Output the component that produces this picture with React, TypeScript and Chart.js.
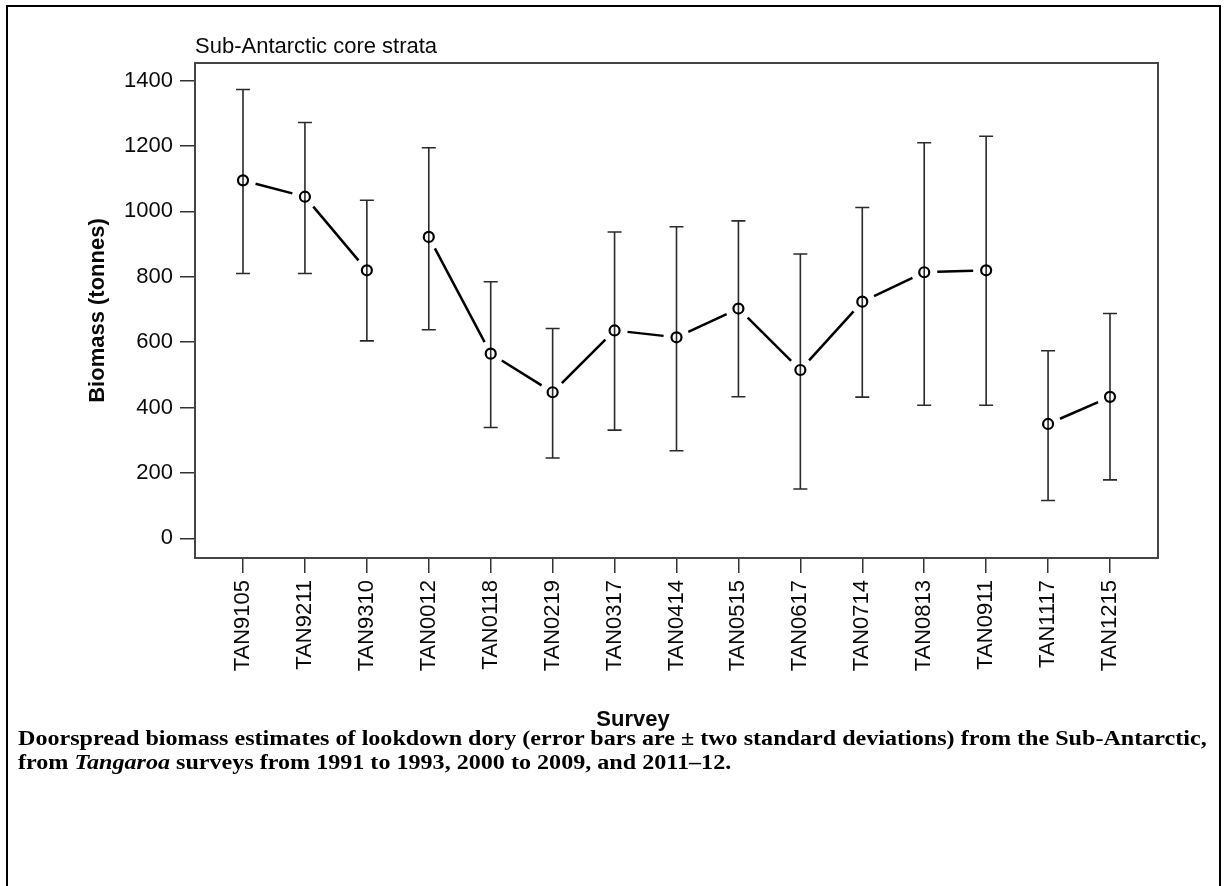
import React, { useEffect, useRef } from "react";
import { Chart, registerables } from "chart.js";

Chart.register(...registerables);

// ---- data ----
const SURVEYS = [
  "TAN9105", "TAN9211", "TAN9310", "TAN0012", "TAN0118", "TAN0219", "TAN0317", "TAN0414",
  "TAN0515", "TAN0617", "TAN0714", "TAN0813", "TAN0911", "TAN1117", "TAN1215",
];
const BIOMASS = [1095, 1045, 820, 922, 565, 447, 636, 615, 703, 515, 724, 814, 820, 350, 433];
const LOWER = [810, 810, 604, 638, 339, 246, 331, 268, 433, 151, 432, 407, 407, 116, 179];
const UPPER = [1373, 1272, 1034, 1195, 785, 642, 937, 953, 971, 870, 1012, 1210, 1230, 574, 688];
// surveys in the same group are joined by a line
const GROUP = [1, 1, 1, 2, 2, 2, 2, 2, 2, 2, 2, 2, 2, 3, 3];
const Y_TICKS = [0, 200, 400, 600, 800, 1000, 1200, 1400];

const CHART_TITLE = "Sub-Antarctic core strata";
const X_TITLE = "Survey";
const Y_TITLE = "Biomass (tonnes)";

const SANS = '"Liberation Sans", Arial, Helvetica, sans-serif';
const SERIF = '"Liberation Serif", "Times New Roman", Times, serif';
const TEXT = "#0a0a0a";

const decorPlugin = {
  id: "decor",
  beforeDatasetsDraw(chart: any) {
    const { ctx, scales } = chart;
    const x = scales.x;
    const y = scales.y;
    ctx.save();
    // error bars
    ctx.strokeStyle = "#2a2a2a";
    ctx.lineWidth = 1.6;
    SURVEYS.forEach((_, i) => {
      const px = x.getPixelForValue(i + 1);
      const lo = y.getPixelForValue(LOWER[i]);
      const hi = y.getPixelForValue(UPPER[i]);
      ctx.beginPath();
      ctx.moveTo(px, lo);
      ctx.lineTo(px, hi);
      ctx.moveTo(px - 7, lo);
      ctx.lineTo(px + 7, lo);
      ctx.moveTo(px - 7, hi);
      ctx.lineTo(px + 7, hi);
      ctx.stroke();
    });
    // connecting segments with gaps around points
    ctx.strokeStyle = "#000";
    ctx.lineWidth = 2.5;
    ctx.lineCap = "butt";
    const gap = 13;
    for (let i = 0; i < SURVEYS.length - 1; i++) {
      if (GROUP[i] !== GROUP[i + 1]) continue;
      const x1 = x.getPixelForValue(i + 1);
      const y1 = y.getPixelForValue(BIOMASS[i]);
      const x2 = x.getPixelForValue(i + 2);
      const y2 = y.getPixelForValue(BIOMASS[i + 1]);
      const len = Math.hypot(x2 - x1, y2 - y1);
      if (len <= 2 * gap) continue;
      const dx = (x2 - x1) / len;
      const dy = (y2 - y1) / len;
      ctx.beginPath();
      ctx.moveTo(x1 + dx * gap, y1 + dy * gap);
      ctx.lineTo(x2 - dx * gap, y2 - dy * gap);
      ctx.stroke();
    }
    ctx.restore();
  },
  afterDraw(chart: any) {
    const { ctx, chartArea } = chart;
    ctx.save();
    // plot box
    ctx.strokeStyle = "#444";
    ctx.lineWidth = 2;
    ctx.strokeRect(
      chartArea.left,
      chartArea.top,
      chartArea.right - chartArea.left,
      chartArea.bottom - chartArea.top
    );
    // chart title
    ctx.fillStyle = TEXT;
    ctx.font = `22px ${SANS}`;
    ctx.textAlign = "left";
    ctx.textBaseline = "alphabetic";
    ctx.fillText(CHART_TITLE, chartArea.left, chartArea.top - 10);
    // x axis title
    ctx.font = `bold 22px ${SANS}`;
    ctx.textAlign = "center";
    ctx.fillText(X_TITLE, 633, 726);
    ctx.restore();
  },
};

function App() {
  const ref = useRef<HTMLCanvasElement | null>(null);

  useEffect(() => {
    if (!ref.current) return;
    const chart = new Chart(ref.current, {
      type: "scatter",
      data: {
        datasets: [
          {
            data: BIOMASS.map((v, i) => ({ x: i + 1, y: v })),
            showLine: false,
            pointRadius: 5,
            pointHoverRadius: 5,
            pointBorderWidth: 2.2,
            pointBorderColor: "#000",
            pointBackgroundColor: "rgba(0,0,0,0)",
          },
        ],
      },
      options: {
        responsive: false,
        devicePixelRatio: 1,
        animation: false,
        events: [],
        layout: { padding: { left: 0, top: 63, right: 70, bottom: 198 } },
        plugins: {
          legend: { display: false },
          tooltip: { enabled: false },
          title: { display: false },
        },
        scales: {
          x: {
            type: "linear",
            min: 0.225,
            max: 15.775,
            afterBuildTicks: (s: any) => {
              s.ticks = SURVEYS.map((_, i) => ({ value: i + 1 }));
            },
            afterFit: (s: any) => {
              s.height = 130;
            },
            ticks: {
              autoSkip: false,
              minRotation: 90,
              maxRotation: 90,
              padding: 7,
              color: TEXT,
              font: { family: SANS, size: 22 },
              callback: (v: any) => SURVEYS[Math.round(Number(v)) - 1] ?? "",
            },
            grid: {
              drawOnChartArea: false,
              drawTicks: true,
              tickLength: 15,
              color: "#333",
              lineWidth: 1.5,
            },
            border: { display: false },
          },
          y: {
            type: "linear",
            min: -60,
            max: 1454,
            afterBuildTicks: (s: any) => {
              s.ticks = Y_TICKS.map((v) => ({ value: v }));
            },
            afterFit: (s: any) => {
              s.width = 195;
            },
            ticks: {
              padding: 7,
              color: TEXT,
              font: { family: SANS, size: 22 },
              callback: (v: any) => String(v),
            },
            grid: {
              drawOnChartArea: false,
              drawTicks: true,
              tickLength: 15,
              color: "#333",
              lineWidth: 1.5,
            },
            border: { display: false },
            title: {
              display: true,
              text: Y_TITLE,
              color: TEXT,
              font: { family: SANS, size: 22, weight: "bold" },
              padding: { top: 85, bottom: 0 },
            },
          },
        },
      },
      plugins: [decorPlugin],
    } as any);
    return () => chart.destroy();
  }, []);

  return (
    <div style={{ position: "absolute", left: 0, top: 0, width: 1228, height: 886, overflow: "hidden", background: "#fff" }}>
      <div
        style={{
          position: "absolute",
          left: 6,
          top: 5,
          width: 1215,
          height: 881,
          boxSizing: "border-box",
          borderTop: "2px solid #000",
          borderLeft: "2px solid #000",
          borderRight: "2px solid #000",
        }}
      />
      <canvas
        ref={ref}
        width={1228}
        height={886}
        style={{ position: "absolute", left: 0, top: 0, width: 1228, height: 886 }}
      />
      <div
        style={{
          position: "absolute",
          left: 18,
          top: 727,
          fontFamily: SERIF,
          fontWeight: "bold",
          fontSize: 20,
          lineHeight: "23.5px",
          color: "#000",
          whiteSpace: "nowrap",
          transform: "scaleX(1.205)",
          transformOrigin: "left top",
        }}
      >
        Doorspread biomass estimates of lookdown dory (error bars are ± two standard deviations) from the Sub-Antarctic,
        <br />
        from <i>Tangaroa</i> surveys from 1991 to 1993, 2000 to 2009, and 2011–12.
      </div>
    </div>
  );
}

export default App;
